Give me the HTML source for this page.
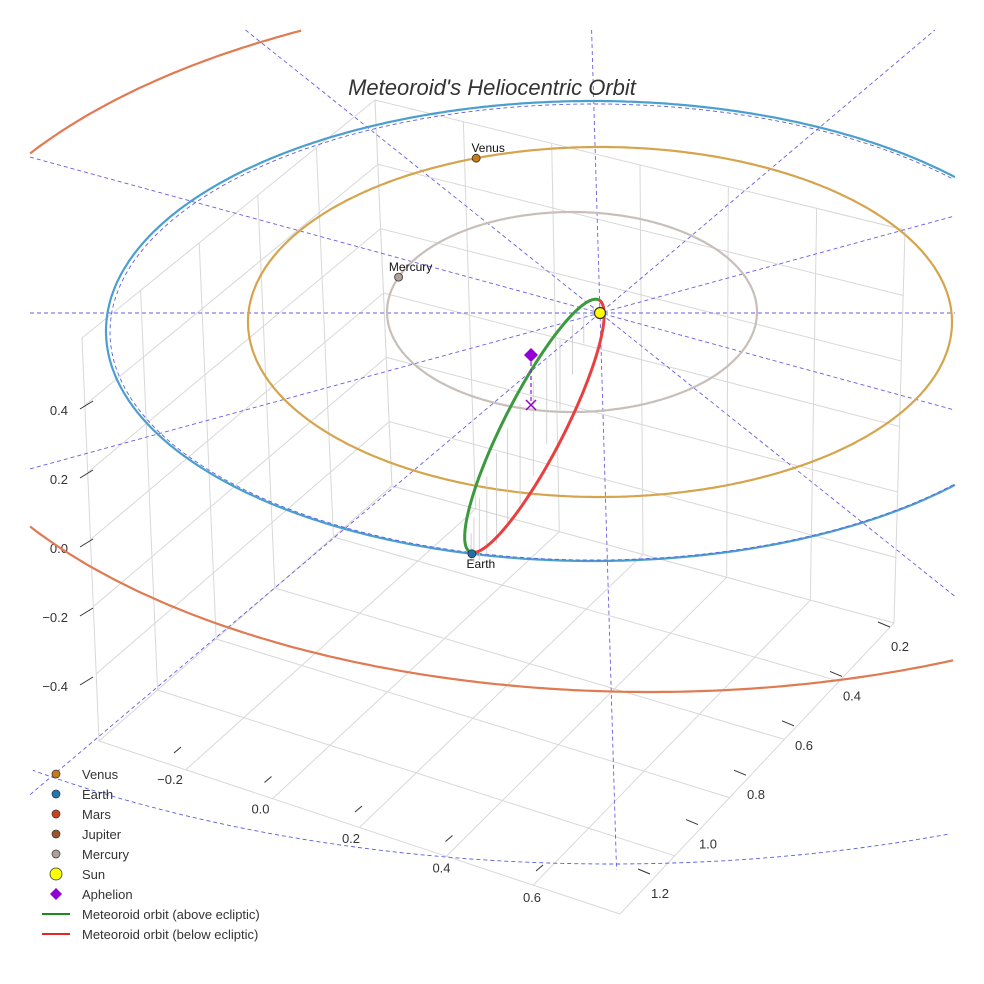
<!DOCTYPE html>
<html><head><meta charset="utf-8">
<style>
html,body{margin:0;padding:0;background:#fff;overflow:hidden;width:984px;height:984px;}
svg{display:block;font-family:"Liberation Sans",sans-serif;}
</style></head>
<body>
<svg id="chart" width="984" height="984" viewBox="0 0 984 984" xmlns="http://www.w3.org/2000/svg">
<g id="panes"></g>
<g id="ticks"></g>
<g id="plot"></g>
<text x="492" y="95" text-anchor="middle" font-size="22" font-style="italic" fill="#333">Meteoroid's Heliocentric Orbit</text>
<g id="legend"></g>
</svg>
<script>
// ---- data ----
const planetNames = ["Mercury","Venus","Earth","Mars"];
const planetRadii = [0.387, 0.723, 1.0, 1.524];
const planetAngles = [-159.6, -110.6, 104.4, 0];
const planetShown = [true, true, true, false];
const guideRadii = [1.0, 2.4];
const radialLineAngles = [0, 15.3, -15.3, 38.6, -40.2, 88.3];
const zTicks = [0.4, 0.2, 0.0, -0.2, -0.4];
const xTicks = [-0.2, 0.0, 0.2, 0.4, 0.6];
const yTicks = [0.2, 0.4, 0.6, 0.8, 1.0, 1.2];
const meteoroidA = 141.5;
const meteoroidB = 30;
const meteoroidTilt = -62.9;
const aphelionDrop = 50;
const dropLengths = [10, 30, 50, 70, 85, 95, 100, 98, 90, 78, 62, 45, 28, 12];

const NS="http://www.w3.org/2000/svg";
function mk(tag, attrs, parent){const e=document.createElementNS(NS,tag);for(const k in attrs)e.setAttribute(k,attrs[k]);parent.appendChild(e);return e;}
const panes=document.getElementById('panes'), ticks=document.getElementById('ticks'), plot=document.getElementById('plot'), legend=document.getElementById('legend');
const CX0=30,CX1=955,CY0=30,CY1=870;
const inside=p=>p[0]>=CX0&&p[0]<=CX1&&p[1]>=CY0&&p[1]<=CY1;

// ---- orbit projection (radius -> screen ellipse) ----
const knotR=[0.387,0.723,1.0,1.524,2.4];
const knotCx=[572,600,593,650,610],knotCy=[312,322,331,340,345],knotRx=[185,352,487,731,1011],knotRy=[100,175,230,352,520];
function interp(r,arr){if(r<=knotR[0])return arr[0]*r/knotR[0];for(let i=0;i<knotR.length-1;i++){if(r<=knotR[i+1]){const t=(r-knotR[i])/(knotR[i+1]-knotR[i]);return arr[i]+t*(arr[i+1]-arr[i]);}}const n=knotR.length-1;return arr[n]+(r-knotR[n])*(arr[n]-arr[n-1])/(knotR[n]-knotR[n-1]);}
function orbitEllipse(r){return {cx:interp(r,knotCx),cy:interp(r,knotCy),rx:interp(r,knotRx),ry:interp(r,knotRy)};}
function orbitPoint(r,deg){const e=orbitEllipse(r),a=deg*Math.PI/180;return [e.cx+e.rx*Math.cos(a),e.cy+e.ry*Math.sin(a)];}
function clippedEllipsePath(cx,cy,rx,ry){
  let d='',pen=false;const N=720;
  for(let k=0;k<=N;k++){const a=2*Math.PI*k/N;const p=[cx+rx*Math.cos(a),cy+ry*Math.sin(a)];
    if(inside(p)){d+=(pen?'L':'M')+p[0].toFixed(1)+','+p[1].toFixed(1);pen=true;}else pen=false;}
  return d;
}
const sun=[600,313];

// ---- panes ----
const A=[82,338],B=[375,100],C=[392,486],D=[99,741],E=[905,230],F=[894,623],G=[620,914];
function bil(p00,p10,p11,p01,u,v){return [(1-u)*(1-v)*p00[0]+u*(1-v)*p10[0]+u*v*p11[0]+(1-u)*v*p01[0],(1-u)*(1-v)*p00[1]+u*(1-v)*p10[1]+u*v*p11[1]+(1-u)*v*p01[1]];}
function pane(p00,p10,p11,p01,nu,nv,name){
  const g=mk('g',{},panes);
  
  
  mk('polygon',{points:[p00,p10,p11,p01].map(p=>p.join(',')).join(' '),fill:'#fff',stroke:'#d8d8d8','stroke-width':1},g);
  for(let i=1;i<nu;i++){const a=bil(p00,p10,p11,p01,i/nu,0),b=bil(p00,p10,p11,p01,i/nu,1);mk('line',{x1:a[0],y1:a[1],x2:b[0],y2:b[1],stroke:'#d8d8d8','stroke-width':1},g);}
  for(let j=1;j<nv;j++){const a=bil(p00,p10,p11,p01,0,j/nv),b=bil(p00,p10,p11,p01,1,j/nv);mk('line',{x1:a[0],y1:a[1],x2:b[0],y2:b[1],stroke:'#d8d8d8','stroke-width':1},g);}
}
pane(A,B,C,D,5,6,'left-pane');
pane(B,E,F,C,6,6,'back-pane');
pane(D,C,F,G,5,6,'floor-pane');

// ---- ticks ----
const zY=z=>548-345*z;
zTicks.forEach(z=>{const y=zY(z);
  const t=mk('text',{x:68,y:y+5,'text-anchor':'end','font-size':13,fill:'#333'},ticks);t.textContent=(z<0?'\u2212':'')+Math.abs(z).toFixed(1);
  
  mk('line',{x1:80,y1:y-1,x2:93,y2:y-9,stroke:'#333','stroke-width':1},ticks);});
xTicks.forEach(v=>{const k=(v+0.2)/0.2;const x=170+90.5*k,y=779+29.5*k;
  const t=mk('text',{x:x,y:y+5,'text-anchor':'middle','font-size':13,fill:'#333'},ticks);t.textContent=(v<0?'\u2212':'')+Math.abs(v).toFixed(1);
  
  mk('line',{x1:x+4,y1:y-26,x2:x+11,y2:y-32,stroke:'#333','stroke-width':1},ticks);});
yTicks.forEach(v=>{const k=(v-0.2)/0.2;const x=900-48*k,y=646+49.4*k;
  const t=mk('text',{x:x,y:y+5,'text-anchor':'middle','font-size':13,fill:'#333'},ticks);t.textContent=v.toFixed(1);
  
  mk('line',{x1:x-22,y1:y-24,x2:x-10,y2:y-19,stroke:'#333','stroke-width':1},ticks);});

// ---- radial guide lines (clipped to plot rect) ----
function rayEnd(dx,dy){let t=1e9;
  if(dx>0)t=Math.min(t,(CX1-sun[0])/dx);if(dx<0)t=Math.min(t,(CX0-sun[0])/dx);
  if(dy>0)t=Math.min(t,(CY1-sun[1])/dy);if(dy<0)t=Math.min(t,(CY0-sun[1])/dy);
  return [sun[0]+dx*t,sun[1]+dy*t];}
radialLineAngles.forEach(a=>{const r=a*Math.PI/180;const dx=Math.cos(r),dy=Math.sin(r);
  const p1=rayEnd(-dx,-dy),p2=rayEnd(dx,dy);
  const l=mk('line',{x1:p1[0],y1:p1[1],x2:p2[0],y2:p2[1],stroke:'#6a5ee0','stroke-width':0.9,'stroke-dasharray':'4,3'},plot);
  });
// ---- orbits ----
const orbitColors={Mercury:'#c8bfba',Venus:'#d6a44e',Earth:'#4a9fcf',Mars:'#e07a52'};
planetNames.forEach((n,i)=>{const e=orbitEllipse(planetRadii[i]);
  const el=mk('path',{d:clippedEllipsePath(e.cx,e.cy,e.rx,e.ry),fill:'none',stroke:orbitColors[n],'stroke-width':2.2},plot);
  });
guideRadii.forEach(r=>{const e=orbitEllipse(r);
  const el=mk('path',{d:clippedEllipsePath(e.cx+1,e.cy+1,e.rx-3,e.ry-2),fill:'none',stroke:'#5a5ee0','stroke-width':0.9,'stroke-dasharray':'4,3'},plot);
  });

// ---- meteoroid orbit ----
const earthPt=orbitPoint(planetRadii[2],planetAngles[2]);
const mcx=(earthPt[0]+597)/2,mcy=(earthPt[1]+298)/2;
const tr=meteoroidTilt*Math.PI/180;
function mpt(t){const x=meteoroidA*Math.cos(t),y=meteoroidB*Math.sin(t);return [mcx+x*Math.cos(tr)-y*Math.sin(tr),mcy+x*Math.sin(tr)+y*Math.cos(tr)];}
dropLengths.forEach((h,i)=>{const t=Math.PI*(0.1+0.8*i/(dropLengths.length-1));const p=mpt(-t);
  const l=mk('line',{x1:p[0]+6,y1:p[1]+4,x2:p[0]+6,y2:p[1]+4+h,stroke:'#c8c8c8','stroke-width':0.8},plot);
  });
let gp=[],rp=[];for(let k=0;k<=60;k++){const t=Math.PI*k/60;gp.push(mpt(-t));rp.push(mpt(t));}
const gpath=mk('polyline',{points:gp.map(p=>p.join(',')).join(' '),fill:'none',stroke:'#3a9a3e','stroke-width':3},plot);

const rpath=mk('polyline',{points:rp.map(p=>p.join(',')).join(' '),fill:'none',stroke:'#e84040','stroke-width':3},plot);

const ap=[531,355];
const al=mk('line',{x1:ap[0],y1:ap[1],x2:ap[0],y2:ap[1]+aphelionDrop,stroke:'#9010d0','stroke-width':1.2,'stroke-dasharray':'4,3'},plot);

const ad=mk('polygon',{points:`${ap[0]},${ap[1]-7} ${ap[0]+7},${ap[1]} ${ap[0]},${ap[1]+7} ${ap[0]-7},${ap[1]}`,fill:'#9400d3'},plot);

const ax=mk('path',{d:`M${ap[0]-5},${ap[1]+aphelionDrop-5}L${ap[0]+5},${ap[1]+aphelionDrop+5}M${ap[0]+5},${ap[1]+aphelionDrop-5}L${ap[0]-5},${ap[1]+aphelionDrop+5}`,stroke:'#9400d3','stroke-width':1.5},plot);


// ---- planets ----
const planetColors={Mercury:'#b0a09a',Venus:'#c97a14',Earth:'#1f6fa8',Mars:'#c9441a'};
planetNames.forEach((n,i)=>{if(!planetShown[i])return;const p=orbitPoint(planetRadii[i],planetAngles[i]);
  const c=mk('circle',{cx:p[0],cy:p[1],r:4,fill:planetColors[n],stroke:'#333','stroke-width':0.8},plot);
  
  const below=n==='Earth';
  const t=mk('text',{x:p[0]+(below?9:12),y:below?p[1]+14:p[1]-6,'text-anchor':'middle','font-size':12,fill:'#111'},plot);t.textContent=n;
  });
const sc=mk('circle',{cx:sun[0],cy:sun[1],r:5.5,fill:'#ffff00',stroke:'#333','stroke-width':1.2},plot);


// ---- legend ----
const legendItems=[['Venus','c','#c97a14'],['Earth','c','#1f77b4'],['Mars','c','#c9441a'],['Jupiter','c','#a0522d'],['Mercury','c','#b0a09a'],['Sun','s','#ffff00'],['Aphelion','d','#9400d3'],['Meteoroid orbit (above ecliptic)','l','#1e8a1e'],['Meteoroid orbit (below ecliptic)','l','#e02828']];
legendItems.forEach((it,i)=>{const y=774+20*i;const g=mk('g',{},legend);
  
  if(it[1]==='c')mk('circle',{cx:56,cy:y,r:4,fill:it[2],stroke:'#333','stroke-width':0.7},g);
  else if(it[1]==='s')mk('circle',{cx:56,cy:y,r:6,fill:it[2],stroke:'#333','stroke-width':0.8},g);
  else if(it[1]==='d')mk('polygon',{points:`56,${y-6} 62,${y} 56,${y+6} 50,${y}`,fill:it[2]},g);
  else mk('line',{x1:42,y1:y,x2:70,y2:y,stroke:it[2],'stroke-width':2},g);
  const t=mk('text',{x:82,y:y+5,'font-size':13,fill:'#333'},g);t.textContent=it[0];});
</script>
</body></html>
